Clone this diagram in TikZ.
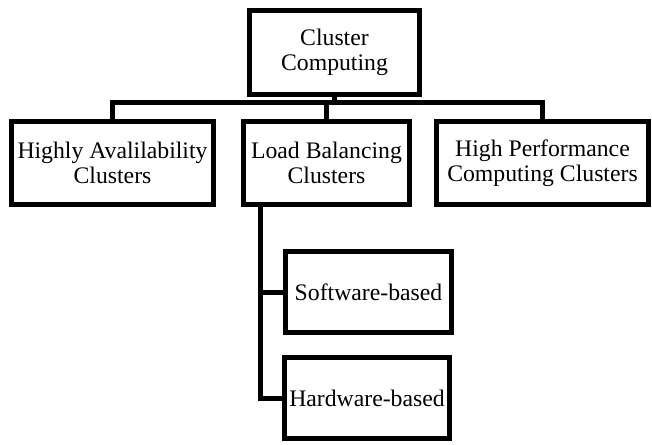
\documentclass[tikz,border=0pt]{standalone}
\usepackage{fontspec}
\setmainfont{Liberation Serif}

\begin{document}
\begin{tikzpicture}[x=0.02cm,y=-0.02cm,line width=0.1cm]

      \useasboundingbox (0,0) rectangle (652,444);

      % Nodes
      \begin{scope}[every node/.style={rectangle,draw,align=center,inner sep=0pt,
          minimum height=1.66cm,font=\fontsize{13.5}{14.5}\selectfont}]
        \node[minimum width=3.4cm,minimum height=1.68cm] (00) at (334.5,52.5) {Cluster\\Computing};

        \node[minimum width=4.04cm] (11) at (112.5,163) {Highly Avalilability\\Clusters};
        \node[minimum width=3.32cm] (12) at (326.5,163) {Load Balancing\\Clusters};
        \node[minimum width=4.24cm] (13) at (542.5,163) {High Performance\\Computing Clusters};

        \node[minimum width=3.32cm,minimum height=1.62cm] (21) at (368.5,292) {Software-based};
        \node[minimum width=3.30cm,minimum height=1.62cm] (22) at (367,398) {Hardware-based};
      \end{scope}

      % Edges
      \begin{scope}
        \draw (00.south) -- ++(0,6) -| (11.north);
        \draw (00.south) -- ++(0,6) -| (12.north);
        \draw (00.south) -- ++(0,6) -| (13.north);

        \draw ([xshift=0.38cm]12.south west) |- (21.west);
        \draw ([xshift=0.38cm]12.south west) |- (22.west);
      \end{scope}

    \end{tikzpicture}
\end{document}
